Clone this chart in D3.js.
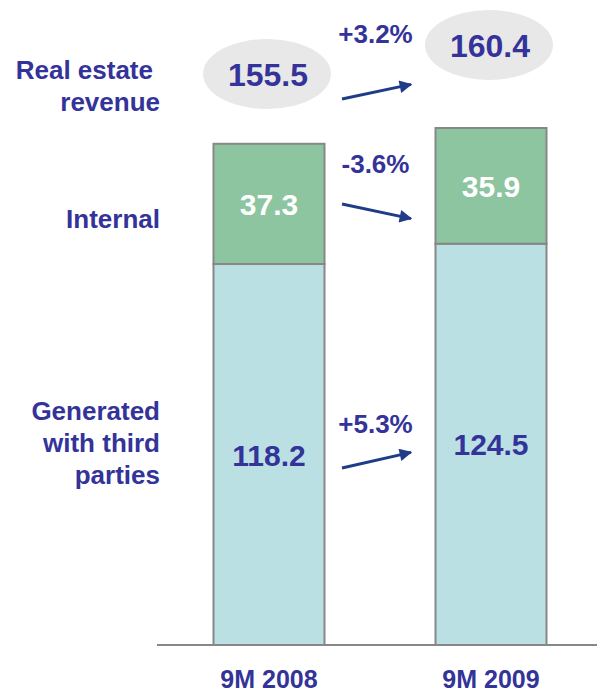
<!DOCTYPE html>
<html>
<head>
<meta charset="utf-8">
<script src="https://cdn.jsdelivr.net/npm/d3@7"></script>
<style>
html,body{margin:0;padding:0;background:#fff;}
svg{display:block;font-family:"Liberation Sans",Arial,sans-serif;font-weight:bold;}
</style>
</head>
<body>
<svg id="chart" width="597" height="693"></svg>
<script>
const categories = ["9M 2008", "9M 2009"];
const thirdParties = [118.2, 124.5];
const internal = [37.3, 35.9];
const totals = [155.5, 160.4];
const changes = ["+3.2%", "-3.6%", "+5.3%"];
const rowLabels = [["Real estate", "revenue"], ["Internal"], ["Generated", "with third", "parties"]];

const navy = "#333399", arrowCol = "#1f3c88";
const svg = d3.select("#chart");

const x = d3.scaleBand().domain(categories).range([158, 602]).paddingInner(0.5).paddingOuter(0.25);
const y = d3.scaleLinear().domain([0, 160.4]).range([645, 128]);

const data = categories.map((c, i) => ({c, tp: thirdParties[i], in: internal[i], tot: totals[i]}));

// bars
const g = svg.append("g");
g.selectAll("rect.tp").data(data).join("rect")
  .attr("x", d => x(d.c)).attr("width", x.bandwidth())
  .attr("y", d => y(d.tp)).attr("height", d => y(0) - y(d.tp))
  .attr("fill", "#bbe0e3").attr("stroke", "#878787").attr("stroke-width", 2);
g.selectAll("rect.in").data(data).join("rect")
  .attr("x", d => x(d.c)).attr("width", x.bandwidth())
  .attr("y", d => y(d.tp + d.in)).attr("height", d => y(d.tp) - y(d.tp + d.in))
  .attr("fill", "#8dc5a0").attr("stroke", "#878787").attr("stroke-width", 2);

// baseline axis
const axis = d3.axisBottom(x).tickSize(0);
const ax = svg.append("g").attr("transform", `translate(0,${y(0)})`).call(axis);
ax.select(".domain").attr("d", `M157,0H597`).attr("stroke", "#878787").attr("stroke-width", 2);
ax.selectAll(".tick text").attr("font-size", 25).attr("font-weight", "bold")
  .attr("fill", navy).attr("font-family", '"Liberation Sans",Arial,sans-serif')
  .attr("dy", null).attr("y", 43);

// segment labels
svg.selectAll("text.tpv").data(data).join("text")
  .attr("x", d => x(d.c) + x.bandwidth()/2).attr("y", d => (y(d.tp) + y(0))/2 + 11)
  .attr("text-anchor", "middle").attr("font-size", 30).attr("fill", navy).text(d => d.tp.toFixed(1));
svg.selectAll("text.inv").data(data).join("text")
  .attr("x", d => x(d.c) + x.bandwidth()/2).attr("y", d => (y(d.tp) + y(d.tp + d.in))/2 + 11)
  .attr("text-anchor", "middle").attr("font-size", 30).attr("fill", "#fff").text(d => d.in.toFixed(1));

// total ellipses
const ellY = [74, 45];
svg.selectAll("ellipse").data(data).join("ellipse")
  .attr("cx", d => x(d.c) + x.bandwidth()/2 - 2).attr("cy", (d, i) => ellY[i])
  .attr("rx", 64).attr("ry", 35).attr("fill", "#e8e8e8");
svg.selectAll("text.tot").data(data).join("text")
  .attr("x", d => x(d.c) + x.bandwidth()/2 - 1).attr("y", (d, i) => ellY[i] + 12)
  .attr("text-anchor", "middle").attr("font-size", 32).attr("fill", navy).text(d => d.tot.toFixed(1));

// left row labels
const rowBase = [79, 228, 420];
rowLabels.forEach((lines, r) => {
  lines.forEach((t, k) => {
    const xr = (r === 0 && k === 0) ? 153 : 160;
    svg.append("text").attr("x", xr).attr("y", rowBase[r] + k * 32)
      .attr("text-anchor", "end").attr("font-size", 26).attr("fill", navy).text(t);
  });
});

// change labels and arrows
svg.append("defs").append("marker").attr("id", "ah")
  .attr("viewBox", "0 0 10 10").attr("refX", 9).attr("refY", 5)
  .attr("markerWidth", 7).attr("markerHeight", 4.2).attr("orient", "auto")
  .attr("markerUnits", "strokeWidth")
  .append("path").attr("d", "M0,0L10,5L0,10Z").attr("fill", arrowCol);

const chg = [
  {t: changes[0], ty: 43, a: [342, 99, 413, 84]},
  {t: changes[1], ty: 173, a: [342, 204, 413, 219]},
  {t: changes[2], ty: 433, a: [342, 468, 413, 452]}
];
chg.forEach(c => {
  svg.append("text").attr("x", 375.5).attr("y", c.ty).attr("text-anchor", "middle")
    .attr("font-size", 26).attr("fill", navy).text(c.t);
  svg.append("line").attr("x1", c.a[0]).attr("y1", c.a[1]).attr("x2", c.a[2] - 2).attr("y2", c.a[3] + (c.a[3] > c.a[1] ? -0.4 : 0.4))
    .attr("stroke", arrowCol).attr("stroke-width", 3).attr("marker-end", "url(#ah)");
});
</script>
</body>
</html>
